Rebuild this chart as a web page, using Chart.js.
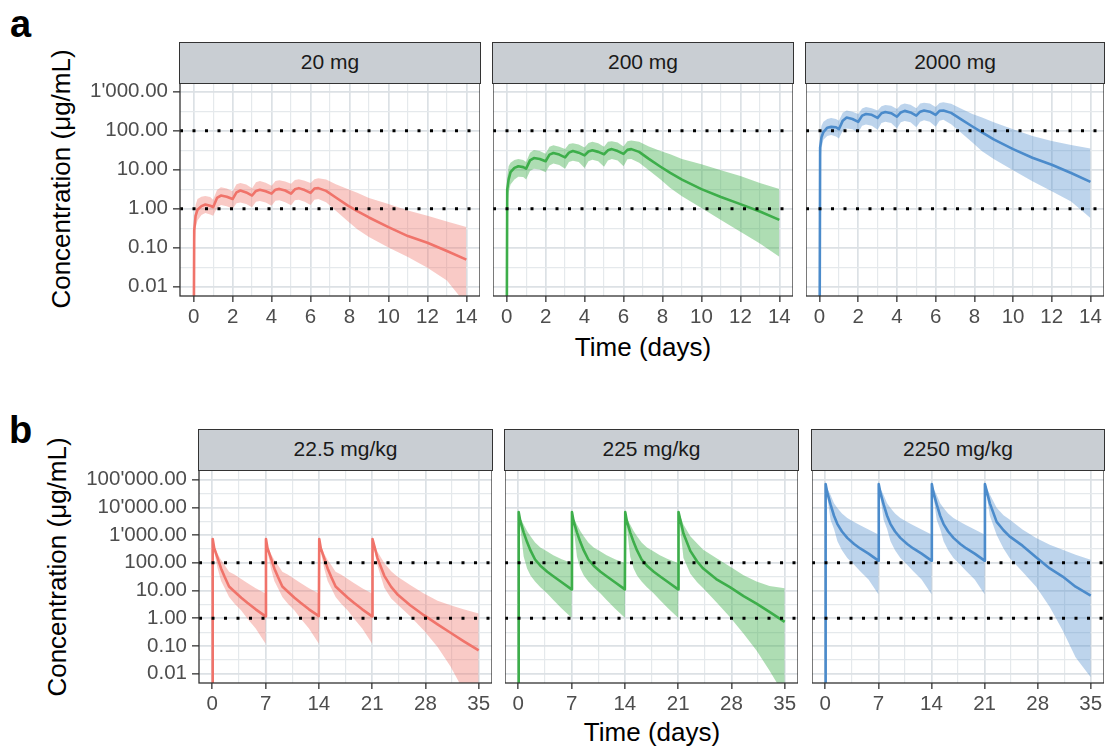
<!DOCTYPE html>
<html>
<head>
<meta charset="utf-8">
<script src="https://cdn.jsdelivr.net/npm/chart.js@4.4.1/dist/chart.umd.min.js"></script>
<style>
  body { margin:0; background:#fff; width:1105px; height:746px; position:relative; overflow:hidden;
         font-family:"Liberation Sans", Arial, sans-serif; }
  canvas { position:absolute; }
  .strip { position:absolute; box-sizing:border-box; background:#C9CED3; border:1.3px solid #333;
           text-align:center; font-size:21px; line-height:38px; color:#1a1a1a; }
  .tag { position:absolute; font-weight:bold; font-size:38px; line-height:38px; color:#000; }
  .xtitle { position:absolute; width:400px; text-align:center; font-size:26px; line-height:26px; color:#000; }
  .ytitle { position:absolute; width:320px; height:30px; text-align:center; font-size:26px; line-height:30px;
            color:#000; transform:rotate(-90deg); }
</style>
</head>
<body>
<div class="tag" style="left:10px;top:5px">a</div>
<div class="tag" style="left:9px;top:411px">b</div>
<div class="ytitle" style="left:-99px;top:164px">Concentration (μg/mL)</div>
<div class="ytitle" style="left:-103px;top:552px">Concentration (μg/mL)</div>
<div class="xtitle" style="left:443px;top:334px">Time (days)</div>
<div class="xtitle" style="left:452px;top:719px">Time (days)</div>

<script>
"use strict";

// ---- row a: daily dosing for 7 days, 14 day window ----
const tA = [0, 0.03, 0.1, 0.2, 0.4, 0.6, 0.85, 1, 1.2, 1.4, 1.7, 2, 2.2, 2.4, 2.7, 3, 3.2, 3.4, 3.7,
  4, 4.2, 4.4, 4.7, 5, 5.2, 5.4, 5.7, 6, 6.2, 6.4, 6.8, 7.3, 7.9, 8.4, 9, 10, 11, 12, 13, 14];

const a20Med = [0.0001, 0.28, 0.66, 0.95, 1.17, 1.29, 1.2, 1.1, 1.9, 2.19, 2.04, 1.78, 2.63, 2.95, 2.63,
  2.19, 2.88, 3.09, 2.82, 2.45, 3.09, 3.24, 2.95, 2.45, 3.16, 3.39, 3.02, 2.57, 3.31, 3.39, 2.88,
  1.95, 1.23, 0.87, 0.6, 0.34, 0.2, 0.135, 0.083, 0.05];
const a20Hi = [0.0001, 0.5, 1.26, 1.78, 2.04, 2.14, 2.0, 1.7, 3.02, 3.55, 3.31, 2.82, 4.27, 4.57, 4.17,
  3.39, 4.79, 5.13, 4.68, 3.89, 5.13, 5.37, 5.01, 4.37, 5.5, 5.75, 5.25, 4.57, 5.75, 6.03, 5.62,
  4.27, 3.24, 2.57, 1.9, 1.32, 0.91, 0.66, 0.47, 0.34];
const a20Lo = [0.0001, 0.063, 0.32, 0.5, 0.69, 0.78, 0.72, 0.66, 1.05, 1.26, 1.17, 1.0, 1.38, 1.45, 1.32,
  1.1, 1.51, 1.58, 1.45, 1.2, 1.62, 1.66, 1.48, 1.23, 1.66, 1.7, 1.51, 1.26, 1.7, 1.78, 1.48,
  0.89, 0.49, 0.3, 0.19, 0.102, 0.058, 0.031, 0.0145, 0.0035];

const a200Med = [0.0001, 3.1, 5.6, 8.7, 11.2, 12.3, 11.7, 10.7, 17.4, 20, 19, 16.6, 24.5, 26.9, 24.5,
  20.9, 27.5, 30.2, 27.5, 23.4, 29.5, 31.6, 28.8, 25.1, 31.6, 33.9, 30.2, 25.7, 32.4, 33.9, 28.8,
  19, 12, 8.3, 5.6, 3.2, 2.0, 1.32, 0.85, 0.52];
const a200Hi = [0.0001, 6.3, 12.3, 15.1, 17.8, 19, 17.8, 15.8, 27.5, 32.4, 30.2, 25.7, 38.9, 42.7, 38.9,
  33.9, 45.7, 47.9, 44.7, 37.2, 49, 52.5, 47.9, 38.9, 52.5, 53.7, 50.1, 39.8, 53.7, 56.2, 52.5,
  39.8, 30.2, 25.1, 19, 13.8, 9.8, 6.9, 4.6, 3.2];
const a200Lo = [0.0001, 0.79, 2.57, 4.17, 5.6, 6.6, 6.5, 5.6, 9.3, 10.7, 10.2, 8.7, 12.9, 14.5, 13.2,
  10.7, 15.8, 17, 15.8, 11.2, 16.6, 18.2, 16.6, 12, 17.4, 19, 17.4, 12.3, 18.6, 19, 15.1,
  9.8, 5.6, 3.4, 2.1, 1.05, 0.52, 0.26, 0.13, 0.059];

const a2000Med = [0.0001, 37, 68, 93, 120, 126, 123, 110, 182, 219, 200, 170, 245, 269, 257,
  214, 282, 302, 282, 229, 295, 324, 295, 245, 309, 331, 309, 257, 324, 331, 288,
  200, 129, 91, 60, 34, 20.4, 13.5, 8.3, 4.9];
const a2000Hi = [0.0001, 79, 135, 170, 200, 214, 200, 182, 288, 331, 309, 269, 372, 407, 380,
  331, 427, 457, 437, 363, 468, 501, 468, 380, 501, 525, 501, 407, 513, 537, 490,
  372, 269, 219, 166, 110, 74, 55, 43, 35];
const a2000Lo = [0.0001, 10, 37, 59, 74, 78, 71, 63, 100, 115, 110, 91, 135, 145, 135,
  107, 158, 170, 158, 115, 166, 178, 166, 123, 170, 186, 170, 126, 182, 191, 148,
  91, 50, 30, 19, 9.8, 5.1, 2.8, 1.55, 0.58];

// ---- row b: weekly dosing (4 doses), 35 day window ----
const tB = [0, 0.05, 0.25, 0.7, 1.15, 1.6, 2.2, 2.9, 3.8, 4.6, 5.7, 7,
  7.05, 7.25, 7.7, 8.15, 8.6, 9.2, 9.9, 10.8, 11.6, 12.7, 14,
  14.05, 14.25, 14.7, 15.15, 15.6, 16.2, 16.9, 17.8, 18.6, 19.7, 21,
  21.05, 21.7, 22.6, 23.5, 24.3, 26, 27.8, 29.6, 31.3, 33, 35];

const b22Med = [0.0001,
  724, 339, 148, 63, 32, 14, 9.3, 5.5, 3.6, 2.1, 1.17,
  724, 339, 148, 63, 32, 14, 9.3, 5.5, 3.6, 2.1, 1.2,
  724, 339, 148, 63, 32, 14, 9.3, 5.5, 3.6, 2.1, 1.17,
  724, 148, 34, 13.5, 7.4, 2.95, 1.29, 0.6, 0.3, 0.15, 0.069];
const b22Hi = [0.0001,
  741, 417, 214, 126, 85, 48, 38, 26, 18.6, 12, 7.9,
  741, 417, 214, 126, 85, 48, 38, 26, 18.6, 12, 7.9,
  741, 417, 214, 126, 85, 48, 38, 26, 18.6, 12, 7.9,
  741, 250, 98, 50, 32, 16, 7.9, 4.3, 2.95, 2.1, 1.48];
const b22Lo = [0.0001,
  708, 251, 63, 22, 12.6, 5.9, 3.4, 1.9, 0.98, 0.43, 0.12,
  708, 251, 63, 22, 12.6, 5.9, 3.4, 1.9, 0.98, 0.43, 0.12,
  708, 251, 63, 22, 12.6, 5.9, 3.4, 1.9, 0.98, 0.43, 0.12,
  708, 79, 12.6, 5.2, 3.2, 1.17, 0.36, 0.091, 0.018, 0.0025, 0.0006];

const b225Med = [0.0001,
  6760, 3310, 1260, 560, 280, 132, 79, 48, 33, 20, 11,
  6760, 3310, 1260, 560, 280, 132, 79, 48, 33, 20, 11,
  6760, 3310, 1260, 560, 280, 132, 79, 48, 33, 20, 11,
  6760, 1150, 270, 112, 62, 26, 13.2, 6.3, 3.4, 1.7, 0.74];
const b225Hi = [0.0001,
  6920, 4170, 2400, 1410, 912, 537, 355, 257, 186, 135, 98,
  6920, 4170, 2400, 1410, 912, 537, 355, 257, 186, 135, 98,
  6920, 4170, 2400, 1410, 912, 537, 355, 257, 186, 135, 98,
  6920, 2400, 912, 500, 295, 148, 74, 36, 21, 14.5, 12];
const b225Lo = [0.0001,
  6600, 2000, 170, 63, 35, 21, 13.2, 7.9, 4.6, 2.24, 1.05,
  6600, 2000, 170, 63, 35, 21, 13.2, 7.9, 4.6, 2.24, 1.05,
  6600, 2000, 170, 63, 35, 21, 13.2, 7.9, 4.6, 2.24, 1.05,
  6600, 150, 40, 20, 12, 3.9, 1.12, 0.275, 0.069, 0.0129, 0.0016];

const b2250Med = [0.0001,
  69000, 35500, 12600, 5000, 2500, 1350, 794, 479, 331, 214, 120,
  69000, 35500, 12600, 5000, 2500, 1350, 794, 479, 331, 214, 120,
  69000, 35500, 12600, 5000, 2500, 1350, 794, 479, 331, 214, 120,
  69000, 14000, 3000, 1500, 900, 417, 158, 63, 32, 13.8, 6.6];
const b2250Hi = [0.0001,
  70800, 50100, 28200, 14100, 9550, 6030, 4170, 2950, 2290, 1580, 1050,
  70800, 50100, 28200, 14100, 9550, 6030, 4170, 2950, 2290, 1580, 1050,
  70800, 50100, 28200, 14100, 9550, 6030, 4170, 2950, 2290, 1580, 1050,
  70800, 29500, 9770, 5250, 3630, 1580, 794, 447, 295, 195, 129];
const b2250Lo = [0.0001,
  67600, 25100, 3550, 1660, 600, 282, 151, 85, 50, 25, 7.4,
  67600, 25100, 3550, 1660, 600, 282, 151, 85, 50, 25, 7.4,
  67600, 25100, 3550, 1660, 600, 282, 151, 85, 50, 25, 7.4,
  67600, 5000, 1000, 331, 148, 48, 13.8, 2.57, 0.36, 0.039, 0.0074];

// ---- axes, labels ----
const titlesA = ['20 mg', '200 mg', '2000 mg'];
const titlesB = ['22.5 mg/kg', '225 mg/kg', '2250 mg/kg'];
const refLevels = [1, 100];

const xLimA = [-0.7, 14.7];
const xLimB = [-1.75, 36.75];
const yLimA = [0.005821, 1679];     // 10^-2.235 .. 10^3.225
const yLimB = [0.004613, 223870];   // 10^-2.336 .. 10^5.35

const xMajorA = [0, 2, 4, 6, 8, 10, 12, 14];
const xMinorA = [1, 3, 5, 7, 9, 11, 13];
const xMajorB = [0, 7, 14, 21, 28, 35];
const xMinorB = [3.5, 10.5, 17.5, 24.5, 31.5];
const yMajorA = [0.01, 0.1, 1, 10, 100, 1000];
const yMinorA = [0.0316, 0.316, 3.16, 31.6, 316];
const yMajorB = [0.01, 0.1, 1, 10, 100, 1000, 10000, 100000];
const yMinorB = [0.0316, 0.316, 3.16, 31.6, 316, 3162, 31623];

const lineColours = ['#F0736A', '#3DAE4A', '#4B8BCB'];
const bandColours = ['rgba(240,115,106,0.38)', 'rgba(61,174,74,0.42)', 'rgba(75,139,203,0.37)'];

const FONT = '"Liberation Sans", Arial, sans-serif';
const XAXIS_H = 40;


// 1'000.00 style labels
function fmtConc(v) {
  const parts = v.toFixed(2).split('.');
  return parts[0].replace(/\B(?=(\d{3})+(?!\d))/g, "'") + '.' + parts[1];
}

function tickList(major, minor) {
  return major.map(v => ({value: v, maj: true}))
    .concat(minor.map(v => ({value: v, maj: false})))
    .sort((a, b) => a.value - b.value);
}

// ggplot style panel border
const panelFrame = {
  id: 'panelFrame',
  afterDraw(chart) {
    const a = chart.chartArea, ctx = chart.ctx;
    ctx.save();
    ctx.strokeStyle = '#333333';
    ctx.lineWidth = 1.3;
    ctx.strokeRect(a.left, a.top, a.right - a.left, a.bottom - a.top);
    ctx.restore();
  }
};

function gridOpts(showTicks, tickLen) {
  return {
    color: ctx => (ctx.tick && ctx.tick.maj) ? '#DCE1E5' : '#E5E9EC',
    lineWidth: ctx => (ctx.tick && ctx.tick.maj) ? 1.7 : 1.2,
    drawTicks: showTicks,
    tickLength: tickLen,
    tickWidth: 1.3,
    tickColor: ctx => (ctx.tick && ctx.tick.maj) ? '#333333' : 'rgba(0,0,0,0)'
  };
}

function makePanel(p) {
  const cv = document.createElement('canvas');
  const cvLeft = p.firstCol ? 0 : p.left;
  const yAxisW = p.left - cvLeft;
  cv.width = p.left + p.width - cvLeft;
  cv.height = p.height + XAXIS_H;
  cv.style.left = cvLeft + 'px';
  cv.style.top = p.top + 'px';
  document.body.appendChild(cv);

  // facet strip
  const strip = document.createElement('div');
  strip.className = 'strip';
  strip.style.left = (p.left - 0.65) + 'px';
  strip.style.top = (p.top - 41) + 'px';
  strip.style.width = (p.width + 1.3) + 'px';
  strip.style.height = '41.6px';
  strip.textContent = p.title;
  document.body.appendChild(strip);

  const pts = ys => p.t.map((x, i) => ({x: x, y: ys[i]}));
  const refLine = v => ({
    data: p.xLim.map(x => ({x: x, y: v})),
    borderColor: '#000', borderWidth: 3, borderDash: [3, 9.5], borderCapStyle: 'butt',
    pointRadius: 0, fill: false
  });

  new Chart(cv, {
    type: 'line',
    data: {
      datasets: [
        refLine(refLevels[0]),
        refLine(refLevels[1]),
        {data: pts(p.med), borderColor: p.colour, borderWidth: 2.6, borderJoinStyle: 'round',
         pointRadius: 0, fill: false},
        {data: pts(p.hi), borderColor: 'rgba(0,0,0,0)', borderWidth: 0, pointRadius: 0,
         backgroundColor: p.band, fill: '+1'},
        {data: pts(p.lo), borderColor: 'rgba(0,0,0,0)', borderWidth: 0, pointRadius: 0, fill: false}
      ]
    },
    options: {
      responsive: false,
      animation: false,
      devicePixelRatio: 1,
      events: [],
      layout: {padding: 0, autoPadding: false},
      plugins: {legend: {display: false}, tooltip: {enabled: false}},
      scales: {
        x: {
          type: 'linear', min: p.xLim[0], max: p.xLim[1], bounds: 'data',
          afterBuildTicks: s => { s.ticks = tickList(p.xMaj, p.xMin); },
          afterFit: s => { s.height = XAXIS_H; s.paddingLeft = 0; s.paddingRight = 0; },
          border: {display: false},
          grid: gridOpts(true, 6),
          ticks: {
            autoSkip: false, maxRotation: 0, minRotation: 0, padding: 3, color: '#4D4D4D',
            font: {family: FONT, size: 20.5, lineHeight: 1.2},
            callback: (v, i, ticks) => ticks[i].maj ? String(v) : ''
          }
        },
        y: {
          type: 'logarithmic', min: p.yLim[0], max: p.yLim[1], bounds: 'data',
          afterBuildTicks: s => { s.ticks = tickList(p.yMaj, p.yMin); },
          afterFit: s => { s.width = yAxisW; s.paddingTop = 0; s.paddingBottom = 0; },
          border: {display: false},
          grid: gridOpts(p.firstCol, 7),
          ticks: {
            display: p.firstCol,
            autoSkip: false, padding: 5, color: '#4D4D4D',
            font: {family: FONT, size: 20.5, lineHeight: 1.2},
            callback: (v, i, ticks) => ticks[i].maj ? fmtConc(v) : ''
          }
        }
      }
    },
    plugins: [panelFrame]
  });
}


const rowA = [
  {med: a20Med, hi: a20Hi, lo: a20Lo},
  {med: a200Med, hi: a200Hi, lo: a200Lo},
  {med: a2000Med, hi: a2000Hi, lo: a2000Lo}
];
const rowB = [
  {med: b22Med, hi: b22Hi, lo: b22Lo},
  {med: b225Med, hi: b225Hi, lo: b225Lo},
  {med: b2250Med, hi: b2250Hi, lo: b2250Lo}
];
const leftsA = [180, 493, 806];
const widthsA = [300, 300, 298];
const leftsB = [199, 505, 812];
const widthsB = [293, 293, 292];

rowA.forEach((d, i) => makePanel({
  left: leftsA[i], top: 83, width: widthsA[i], height: 213, firstCol: i === 0,
  title: titlesA[i], t: tA, med: d.med, hi: d.hi, lo: d.lo,
  colour: lineColours[i], band: bandColours[i],
  xLim: xLimA, yLim: yLimA, xMaj: xMajorA, xMin: xMinorA, yMaj: yMajorA, yMin: yMinorA
}));

rowB.forEach((d, i) => makePanel({
  left: leftsB[i], top: 470, width: widthsB[i], height: 213, firstCol: i === 0,
  title: titlesB[i], t: tB, med: d.med, hi: d.hi, lo: d.lo,
  colour: lineColours[i], band: bandColours[i],
  xLim: xLimB, yLim: yLimB, xMaj: xMajorB, xMin: xMinorB, yMaj: yMajorB, yMin: yMinorB
}));
</script>
</body>
</html>
